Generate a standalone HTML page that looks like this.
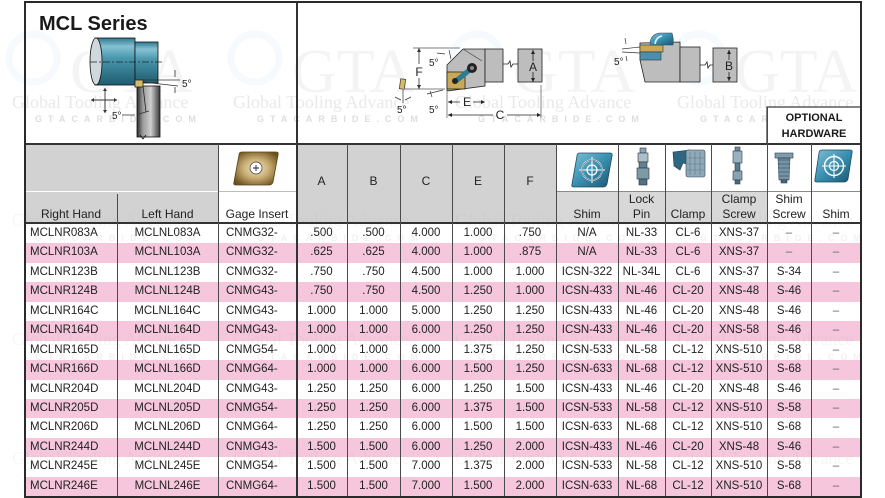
<!DOCTYPE html>
<html><head><meta charset="utf-8">
<style>
*{box-sizing:border-box;margin:0;padding:0}
html,body{width:885px;height:498px;overflow:hidden;background:#fff}
body{position:relative;font-family:"Liberation Sans",sans-serif;color:#222}
.abs{position:absolute}
.vl{position:absolute;width:1px;background:#4a4a4a}
.rows{position:absolute;left:25px;top:224px;width:836px}
.r{display:flex;height:19.45px;line-height:19.45px;font-size:11.5px;white-space:nowrap}
.r.p{background:#f5c6dc}
.r span{display:block;text-align:center;overflow:visible}
.r span:nth-child(1){width:92px;text-align:left;padding-left:5px}
.r span:nth-child(2){width:101px}
.r span:nth-child(3){width:78px;text-align:left;padding-left:8px}
.r span:nth-child(4){width:51px}
.r span:nth-child(5){width:53px}
.r span:nth-child(6){width:52px}
.r span:nth-child(7){width:52px}
.r span:nth-child(8){width:52px}
.r span:nth-child(9){width:62px}
.r span:nth-child(10){width:47px}
.r span:nth-child(11){width:46px}
.r span:nth-child(12){width:56px}
.r span:nth-child(13){width:44px}
.r span:nth-child(14){width:50px}
.d{color:#666}
.h{position:absolute;font-size:12px;text-align:center;line-height:15px;color:#222}
</style></head>
<body>

<!-- header backgrounds -->
<div class="abs" style="left:25px;top:144px;width:193px;height:79px;background:#d2d2d2"></div>
<div class="abs" style="left:25px;top:190.5px;width:193px;height:1.5px;background:#fff"></div>
<div class="abs" style="left:218px;top:191px;width:78px;height:1px;background:#bdbdbd"></div>
<div class="abs" style="left:296px;top:144px;width:260px;height:79px;background:#d2d2d2"></div>
<div class="abs" style="left:556px;top:192px;width:211px;height:31px;background:#d8d8d8"></div>
<div class="abs" style="left:556px;top:191px;width:305px;height:1px;background:#8a8a8a"></div>

<svg class="abs" style="left:0;top:0" width="885" height="498" viewBox="0 0 885 498">
<defs>
<linearGradient id="teal" x1="0" y1="0" x2="0" y2="1">
<stop offset="0" stop-color="#2f7990"/><stop offset="0.18" stop-color="#86c2d2"/><stop offset="0.42" stop-color="#4a98ae"/><stop offset="1" stop-color="#1f5c70"/>
</linearGradient>
<linearGradient id="steel" x1="0" y1="0" x2="1" y2="0">
<stop offset="0" stop-color="#2a2a2a"/><stop offset="0.25" stop-color="#9a9a9a"/><stop offset="0.6" stop-color="#cfcfcf"/><stop offset="1" stop-color="#3a3a3a"/>
</linearGradient>
<linearGradient id="blue" x1="0" y1="0" x2="1" y2="1">
<stop offset="0" stop-color="#7fc0d8"/><stop offset="0.5" stop-color="#3a8fb0"/><stop offset="1" stop-color="#1b5570"/>
</linearGradient>
<radialGradient id="tan" cx="0.5" cy="0.5" r="0.6">
<stop offset="0" stop-color="#f1e6c8"/><stop offset="0.5" stop-color="#c7ad72"/><stop offset="1" stop-color="#6d5220"/>
</radialGradient>
</defs>

<!-- watermarks -->
<g fill="none" stroke-width="7" opacity="0.35">
<circle cx="33" cy="58" r="24" stroke="#e6f1f7"/>
<circle cx="255" cy="58" r="24" stroke="#e6f1f7"/>
<circle cx="477" cy="58" r="24" stroke="#e6f1f7"/>
<circle cx="699" cy="58" r="24" stroke="#e6f1f7"/>
</g>
<g font-family="Liberation Serif, serif" font-size="62" fill="#f4f4f4">
<text x="70" y="92">GTA</text><text x="292" y="92">GTA</text><text x="513" y="92">GTA</text><text x="735" y="92">GTA</text>
</g>
<g font-family="Liberation Serif, serif" font-size="18" fill="#e9e9e9">
<text x="12" y="108">Global Tooling Advance</text><text x="233" y="108">Global Tooling Advance</text><text x="455" y="108">Global Tooling Advance</text><text x="677" y="108">Global Tooling Advance</text>
</g>
<g font-family="Liberation Sans, sans-serif" font-size="9" font-weight="bold" fill="#dedede" letter-spacing="6">
<text x="35" y="122">GTACARBIDE.COM</text><text x="257" y="122">GTACARBIDE.COM</text><text x="478" y="122">GTACARBIDE.COM</text><text x="700" y="122">GTACARBIDE.COM</text>
</g>

<text x="39" y="30" font-family="Liberation Sans, sans-serif" font-weight="bold" font-size="20" fill="#1a1a1a">MCL Series</text>

<!-- LEFT DIAGRAM -->
<rect x="95" y="38" width="40" height="47" fill="url(#teal)" stroke="#111" stroke-width="0.8"/>
<rect x="135" y="42" width="23" height="41" fill="url(#teal)" stroke="#111" stroke-width="0.8"/>
<ellipse cx="96" cy="61.5" rx="6" ry="23.5" fill="#cfd8dc" stroke="#111" stroke-width="0.8"/>
<line x1="90" y1="62" x2="163" y2="62" stroke="#222" stroke-width="0.8" stroke-dasharray="7 2 2 2"/>
<rect x="137" y="86" width="23" height="51" fill="url(#steel)" stroke="#111" stroke-width="0.8"/>
<path d="M143 86 L146 112" stroke="#222" stroke-width="0.8"/>
<rect x="135" y="80" width="8" height="7" fill="#d6bb6a" stroke="#222" stroke-width="0.8"/>
<path d="M143 80 L180 80 M143 82 L178 86" stroke="#333" stroke-width="0.8"/>
<path d="M175 70 L175 77 M175 87 L175 93" stroke="#333" stroke-width="0.8"/>
<text x="182" y="87" font-size="10" font-family="Liberation Sans, sans-serif" fill="#222">5°</text>
<path d="M91 100 L117 100 M105 88 L105 113" stroke="#333" stroke-width="0.9"/>
<path d="M91 100 l3 -2 v4 z M117 100 l-3 -2 v4 z M105 88 l-2 3 h4 z M105 113 l-2 -3 h4 z" fill="#333"/>
<text x="112" y="119" font-size="10" font-family="Liberation Sans, sans-serif" fill="#222">5°</text>
<path d="M122 115 L135 115 M139 114 L149 111" stroke="#333" stroke-width="0.8"/>
<path d="M140 135 l3 4 l3 -4" stroke="#111" fill="none" stroke-width="0.8"/>

<!-- MIDDLE DIAGRAM -->
<path d="M413 48 L460 48 M405 89 L445 89" stroke="#555" stroke-width="0.7"/>
<path d="M419 48 L419 64 M419 78 L419 89" stroke="#333" stroke-width="0.8"/>
<path d="M419 48 l-2 4 h4 z M419 89 l-2 -4 h4 z" fill="#333"/>
<text x="419" y="76" font-size="12" text-anchor="middle" font-family="Liberation Sans, sans-serif" fill="#222">F</text>
<text x="429" y="66" font-size="10" font-family="Liberation Sans, sans-serif" fill="#222">5°</text>
<path d="M437 53 L445 54 M449 50 L451 59" stroke="#333" stroke-width="0.7"/>
<polygon points="447,65 463,49 485,49 485,86 447,91" fill="#bdbdbd" stroke="#222" stroke-width="0.8"/>
<path d="M463 49 L482 61" stroke="#444" stroke-width="0.7"/>
<rect x="485" y="49" width="18" height="33" fill="#bdbdbd" stroke="#222" stroke-width="0.8"/>
<rect x="518" y="49" width="24" height="33" fill="#bdbdbd" stroke="#222" stroke-width="0.8"/>
<path d="M503 64 L508 64 L510 61 L511 67 L513 64 L518 64" stroke="#222" fill="none" stroke-width="0.8"/>
<rect x="447" y="72" width="18" height="17" fill="#c9a857" stroke="#222" stroke-width="0.8"/>
<line x1="456" y1="81" x2="472" y2="68" stroke="#2b7c94" stroke-width="5"/>
<circle cx="472" cy="68" r="5" fill="#222"/><circle cx="472" cy="68" r="2" fill="#888"/>
<circle cx="455" cy="81" r="3" fill="#222"/>
<path d="M533 50 L533 61 M533 72 L533 82" stroke="#222" stroke-width="0.8"/>
<path d="M533 50 l-2 4 h4 z M533 82 l-2 -4 h4 z" fill="#222"/>
<text x="533" y="71" font-size="12" text-anchor="middle" font-family="Liberation Sans, sans-serif" fill="#222">A</text>
<rect x="400" y="79" width="5" height="10" fill="#d6bb6a" stroke="#333" stroke-width="0.7" transform="rotate(8 402 84)"/>
<path d="M403 90 L403 103 M395 97 L401 100 M411 97 L405 100 M427 94 L443 90 M430 91 L432 97" stroke="#333" stroke-width="0.7"/>
<text x="397" y="113" font-size="10" font-family="Liberation Sans, sans-serif" fill="#222">5°</text>
<text x="429" y="113" font-size="10" font-family="Liberation Sans, sans-serif" fill="#222">5°</text>
<path d="M447 92 L447 118 M541 85 L541 118" stroke="#555" stroke-width="0.7"/>
<path d="M448 102 L460 102 M473 102 L484 102 M448 115 L493 115 M507 115 L540 115" stroke="#222" stroke-width="0.8"/>
<path d="M448 102 l4 -2 v4 z M485 102 l-4 -2 v4 z M448 115 l4 -2 v4 z M541 115 l-4 -2 v4 z" fill="#222"/>
<text x="467" y="106" font-size="12" text-anchor="middle" font-family="Liberation Sans, sans-serif" fill="#222">E</text>
<text x="500" y="119" font-size="12" text-anchor="middle" font-family="Liberation Sans, sans-serif" fill="#222">C</text>

<!-- RIGHT DIAGRAM -->
<polygon points="640,43 680,42 680,82 645,82 640,60" fill="#bdbdbd" stroke="#222" stroke-width="0.8"/>
<rect x="640" y="45" width="23" height="7" fill="#c9a857" stroke="#333" stroke-width="0.6"/>
<rect x="640" y="52" width="21" height="8" fill="#4a8fb0" stroke="#333" stroke-width="0.6"/>
<path d="M650 45 Q650 34 660 33 L672 33 Q674 40 673 45 Z" fill="url(#blue)" stroke="#2a4d60" stroke-width="0.6"/>
<path d="M655 44 Q656 37 662 36" stroke="#dff" fill="none" stroke-width="1.5"/>
<rect x="680" y="47" width="20" height="35" fill="#bdbdbd" stroke="#222" stroke-width="0.8"/>
<rect x="713" y="48" width="24" height="34" fill="#bdbdbd" stroke="#222" stroke-width="0.8"/>
<path d="M700 65 L705 65 L707 62 L708 68 L710 65 L713 65" stroke="#222" fill="none" stroke-width="0.8"/>
<path d="M729 50 L729 60 M729 72 L729 81" stroke="#222" stroke-width="0.8"/>
<path d="M729 50 l-2 4 h4 z M729 81 l-2 -4 h4 z" fill="#222"/>
<text x="729" y="70" font-size="12" text-anchor="middle" font-family="Liberation Sans, sans-serif" fill="#222">B</text>
<path d="M622 49 L640 47 M622 52 L640 53 M625 38 L626 44 M626 56 L627 61" stroke="#333" stroke-width="0.7"/>
<text x="614" y="65" font-size="10" font-family="Liberation Sans, sans-serif" fill="#222">5°</text>

<rect x="767" y="107" width="94" height="37" fill="#fff" stroke="#333" stroke-width="1.2"/>
<text x="814" y="121" font-size="11" font-weight="bold" text-anchor="middle" font-family="Liberation Sans, sans-serif" fill="#1a1a1a">OPTIONAL</text>
<text x="814" y="137" font-size="11" font-weight="bold" text-anchor="middle" font-family="Liberation Sans, sans-serif" fill="#1a1a1a">HARDWARE</text>

<!-- HEADER ICONS -->
<path d="M242 152 L276 152 Q279 152 278 155 L273 182 Q272 185 269 185 L236 185 Q233 185 234 182 L239 155 Q239 152 242 152 Z" fill="url(#tan)" stroke="#5a4418" stroke-width="0.8"/>
<circle cx="256" cy="168" r="6" fill="#fff" stroke="#333" stroke-width="0.7"/>
<path d="M253 168 h6 M256 165 v6" stroke="#222" stroke-width="0.9"/>
<path d="M580 153 L610 153 Q613 153 612 156 L607 184 Q606 187 603 187 L574 187 Q571 187 572 184 L577 156 Q577 153 580 153 Z" fill="url(#blue)" stroke="#1d4d63" stroke-width="0.8"/>
<circle cx="592" cy="170" r="10" fill="none" stroke="#fff" stroke-width="1.4"/>
<circle cx="592" cy="170" r="5" fill="none" stroke="#fff" stroke-width="1.2"/>
<path d="M579 170 h26 M592 157 v26" stroke="#fff" stroke-width="1.1"/>
<circle cx="592" cy="170" r="10" fill="none" stroke="#123" stroke-width="0.5"/>
<g stroke="#333" stroke-width="0.6">
<rect x="640" y="148" width="6" height="5" fill="#8aa6b6"/>
<rect x="638" y="153" width="10" height="9" fill="#a9bfcb"/>
<rect x="639" y="162" width="8" height="6" fill="#5f8295"/>
<rect x="637" y="168" width="12" height="11" fill="#7d9aab"/>
<rect x="639" y="179" width="8" height="6" fill="#4f7285"/>
</g>
<path d="M673 152 L690 150 L690 165 L683 163 L680 170 L674 166 Z" fill="#2f6682" stroke="#1b3a4a" stroke-width="0.6"/>
<rect x="686" y="150" width="19" height="27" rx="2" fill="#8fa9b8" stroke="#2a4455" stroke-width="0.6"/>
<path d="M690 152 v23 M695 152 v23 M700 152 v23 M687 158 h17 M687 164 h17 M687 170 h17" stroke="#5d7a8a" stroke-width="0.6"/>
<g stroke="#2b3f4b" stroke-width="0.6">
<rect x="735" y="147" width="5" height="4" fill="#6b8a9c"/>
<rect x="733" y="151" width="9" height="12" fill="#9bb2bf"/>
<rect x="735" y="163" width="5" height="8" fill="#5c7c8e"/>
<rect x="733" y="171" width="9" height="9" fill="#8aa3b1"/>
<rect x="735" y="180" width="5" height="4" fill="#4b6b7d"/>
</g>
<g stroke="#2b3f4b" stroke-width="0.6">
<rect x="775" y="153" width="18" height="5" fill="#7e9bab"/>
<path d="M778 158 L790 158 L789 180 L779 180 Z" fill="#5f7f92"/>
<path d="M778 162 h12 M778 166 h12 M778 170 h12 M779 174 h10 M779 178 h10" stroke="#c6d4dc"/>
<rect x="781" y="180" width="6" height="3" fill="#4b6b7d"/>
</g>
<path d="M822 150 L850 150 Q853 150 852 153 L848 179 Q847 182 844 182 L817 182 Q814 182 815 179 L819 153 Q819 150 822 150 Z" fill="url(#blue)" stroke="#1d4d63" stroke-width="0.8"/>
<circle cx="834" cy="166" r="9.5" fill="none" stroke="#fff" stroke-width="1.4"/>
<circle cx="834" cy="166" r="4.5" fill="none" stroke="#fff" stroke-width="1.2"/>
<path d="M822 166 h24 M834 154 v24" stroke="#fff" stroke-width="1.1"/>
</svg>

<div class="h" style="left:25px;top:207px;width:92px">Right Hand</div>
<div class="h" style="left:117px;top:207px;width:101px">Left Hand</div>
<div class="h" style="left:218px;top:207px;width:78px">Gage Insert</div>
<div class="h" style="left:296px;top:174px;width:51px">A</div>
<div class="h" style="left:347px;top:174px;width:53px">B</div>
<div class="h" style="left:400px;top:174px;width:52px">C</div>
<div class="h" style="left:452px;top:174px;width:52px">E</div>
<div class="h" style="left:504px;top:174px;width:52px">F</div>
<div class="h" style="left:556px;top:207px;width:62px">Shim</div>
<div class="h" style="left:618px;top:192px;width:47px">Lock<br>Pin</div>
<div class="h" style="left:665px;top:207px;width:46px">Clamp</div>
<div class="h" style="left:711px;top:192px;width:56px">Clamp<br>Screw</div>
<div class="h" style="left:767px;top:192px;width:44px">Shim<br>Screw</div>
<div class="h" style="left:811px;top:207px;width:50px">Shim</div>

<div class="rows">
<div class="r"><span>MCLNR083A</span><span>MCLNL083A</span><span>CNMG32-</span><span>.500</span><span>.500</span><span>4.000</span><span>1.000</span><span>.750</span><span>N/A</span><span>NL-33</span><span>CL-6</span><span>XNS-37</span><span class="d">–</span><span class="d">–</span></div>
<div class="r p"><span>MCLNR103A</span><span>MCLNL103A</span><span>CNMG32-</span><span>.625</span><span>.625</span><span>4.000</span><span>1.000</span><span>.875</span><span>N/A</span><span>NL-33</span><span>CL-6</span><span>XNS-37</span><span class="d">–</span><span class="d">–</span></div>
<div class="r"><span>MCLNR123B</span><span>MCLNL123B</span><span>CNMG32-</span><span>.750</span><span>.750</span><span>4.500</span><span>1.000</span><span>1.000</span><span>ICSN-322</span><span>NL-34L</span><span>CL-6</span><span>XNS-37</span><span>S-34</span><span class="d">–</span></div>
<div class="r p"><span>MCLNR124B</span><span>MCLNL124B</span><span>CNMG43-</span><span>.750</span><span>.750</span><span>4.500</span><span>1.250</span><span>1.000</span><span>ICSN-433</span><span>NL-46</span><span>CL-20</span><span>XNS-48</span><span>S-46</span><span class="d">–</span></div>
<div class="r"><span>MCLNR164C</span><span>MCLNL164C</span><span>CNMG43-</span><span>1.000</span><span>1.000</span><span>5.000</span><span>1.250</span><span>1.250</span><span>ICSN-433</span><span>NL-46</span><span>CL-20</span><span>XNS-48</span><span>S-46</span><span class="d">–</span></div>
<div class="r p"><span>MCLNR164D</span><span>MCLNL164D</span><span>CNMG43-</span><span>1.000</span><span>1.000</span><span>6.000</span><span>1.250</span><span>1.250</span><span>ICSN-433</span><span>NL-46</span><span>CL-20</span><span>XNS-58</span><span>S-46</span><span class="d">–</span></div>
<div class="r"><span>MCLNR165D</span><span>MCLNL165D</span><span>CNMG54-</span><span>1.000</span><span>1.000</span><span>6.000</span><span>1.375</span><span>1.250</span><span>ICSN-533</span><span>NL-58</span><span>CL-12</span><span>XNS-510</span><span>S-58</span><span class="d">–</span></div>
<div class="r p"><span>MCLNR166D</span><span>MCLNL166D</span><span>CNMG64-</span><span>1.000</span><span>1.000</span><span>6.000</span><span>1.500</span><span>1.250</span><span>ICSN-633</span><span>NL-68</span><span>CL-12</span><span>XNS-510</span><span>S-68</span><span class="d">–</span></div>
<div class="r"><span>MCLNR204D</span><span>MCLNL204D</span><span>CNMG43-</span><span>1.250</span><span>1.250</span><span>6.000</span><span>1.250</span><span>1.500</span><span>ICSN-433</span><span>NL-46</span><span>CL-20</span><span>XNS-48</span><span>S-46</span><span class="d">–</span></div>
<div class="r p"><span>MCLNR205D</span><span>MCLNL205D</span><span>CNMG54-</span><span>1.250</span><span>1.250</span><span>6.000</span><span>1.375</span><span>1.500</span><span>ICSN-533</span><span>NL-58</span><span>CL-12</span><span>XNS-510</span><span>S-58</span><span class="d">–</span></div>
<div class="r"><span>MCLNR206D</span><span>MCLNL206D</span><span>CNMG64-</span><span>1.250</span><span>1.250</span><span>6.000</span><span>1.500</span><span>1.500</span><span>ICSN-633</span><span>NL-68</span><span>CL-12</span><span>XNS-510</span><span>S-68</span><span class="d">–</span></div>
<div class="r p"><span>MCLNR244D</span><span>MCLNL244D</span><span>CNMG43-</span><span>1.500</span><span>1.500</span><span>6.000</span><span>1.250</span><span>2.000</span><span>ICSN-433</span><span>NL-46</span><span>CL-20</span><span>XNS-48</span><span>S-46</span><span class="d">–</span></div>
<div class="r"><span>MCLNR245E</span><span>MCLNL245E</span><span>CNMG54-</span><span>1.500</span><span>1.500</span><span>7.000</span><span>1.375</span><span>2.000</span><span>ICSN-533</span><span>NL-58</span><span>CL-12</span><span>XNS-510</span><span>S-58</span><span class="d">–</span></div>
<div class="r p"><span>MCLNR246E</span><span>MCLNL246E</span><span>CNMG64-</span><span>1.500</span><span>1.500</span><span>7.000</span><span>1.500</span><span>2.000</span><span>ICSN-633</span><span>NL-68</span><span>CL-12</span><span>XNS-510</span><span>S-68</span><span class="d">–</span></div>
</div>

<svg class="abs" style="left:0;top:0;pointer-events:none" width="885" height="498">
<g font-family="Liberation Serif, serif" font-size="18" fill="#909090" opacity="0.07">
<text x="12" y="226">Global Tooling Advance</text><text x="233" y="226">Global Tooling Advance</text><text x="455" y="226">Global Tooling Advance</text><text x="677" y="226">Global Tooling Advance</text>
<text x="12" y="345">Global Tooling Advance</text><text x="233" y="345">Global Tooling Advance</text><text x="455" y="345">Global Tooling Advance</text><text x="677" y="345">Global Tooling Advance</text>
<text x="12" y="464">Global Tooling Advance</text><text x="233" y="464">Global Tooling Advance</text><text x="455" y="464">Global Tooling Advance</text><text x="677" y="464">Global Tooling Advance</text>
</g>
<g font-family="Liberation Sans, sans-serif" font-size="9" font-weight="bold" fill="#909090" opacity="0.12" letter-spacing="6">
<text x="35" y="241">GTACARBIDE.COM</text><text x="257" y="241">GTACARBIDE.COM</text><text x="478" y="241">GTACARBIDE.COM</text><text x="700" y="241">GTACARBIDE.COM</text>
<text x="35" y="360">GTACARBIDE.COM</text><text x="257" y="360">GTACARBIDE.COM</text><text x="478" y="360">GTACARBIDE.COM</text><text x="700" y="360">GTACARBIDE.COM</text>
</g>
</svg>

<div class="abs" style="left:25px;top:143px;width:836px;height:2px;background:#333"></div>
<div class="abs" style="left:25px;top:222px;width:836px;height:2px;background:#333"></div>
<div class="vl" style="left:117px;top:194px;height:302px"></div>
<div class="vl" style="left:218px;top:144px;height:352px"></div>
<div class="vl" style="left:296px;top:2px;height:494px;width:1.5px;background:#333"></div>
<div class="vl" style="left:347px;top:144px;height:352px"></div>
<div class="vl" style="left:400px;top:144px;height:352px"></div>
<div class="vl" style="left:452px;top:144px;height:352px"></div>
<div class="vl" style="left:504px;top:144px;height:352px"></div>
<div class="vl" style="left:556px;top:144px;height:352px"></div>
<div class="vl" style="left:618px;top:144px;height:352px"></div>
<div class="vl" style="left:665px;top:144px;height:352px"></div>
<div class="vl" style="left:711px;top:144px;height:352px"></div>
<div class="vl" style="left:767px;top:107px;height:389px"></div>
<div class="vl" style="left:811px;top:144px;height:352px"></div>

<div class="abs" style="left:24px;top:1px;width:838px;height:497px;border:2px solid #2a2a2a"></div>
</body></html>
